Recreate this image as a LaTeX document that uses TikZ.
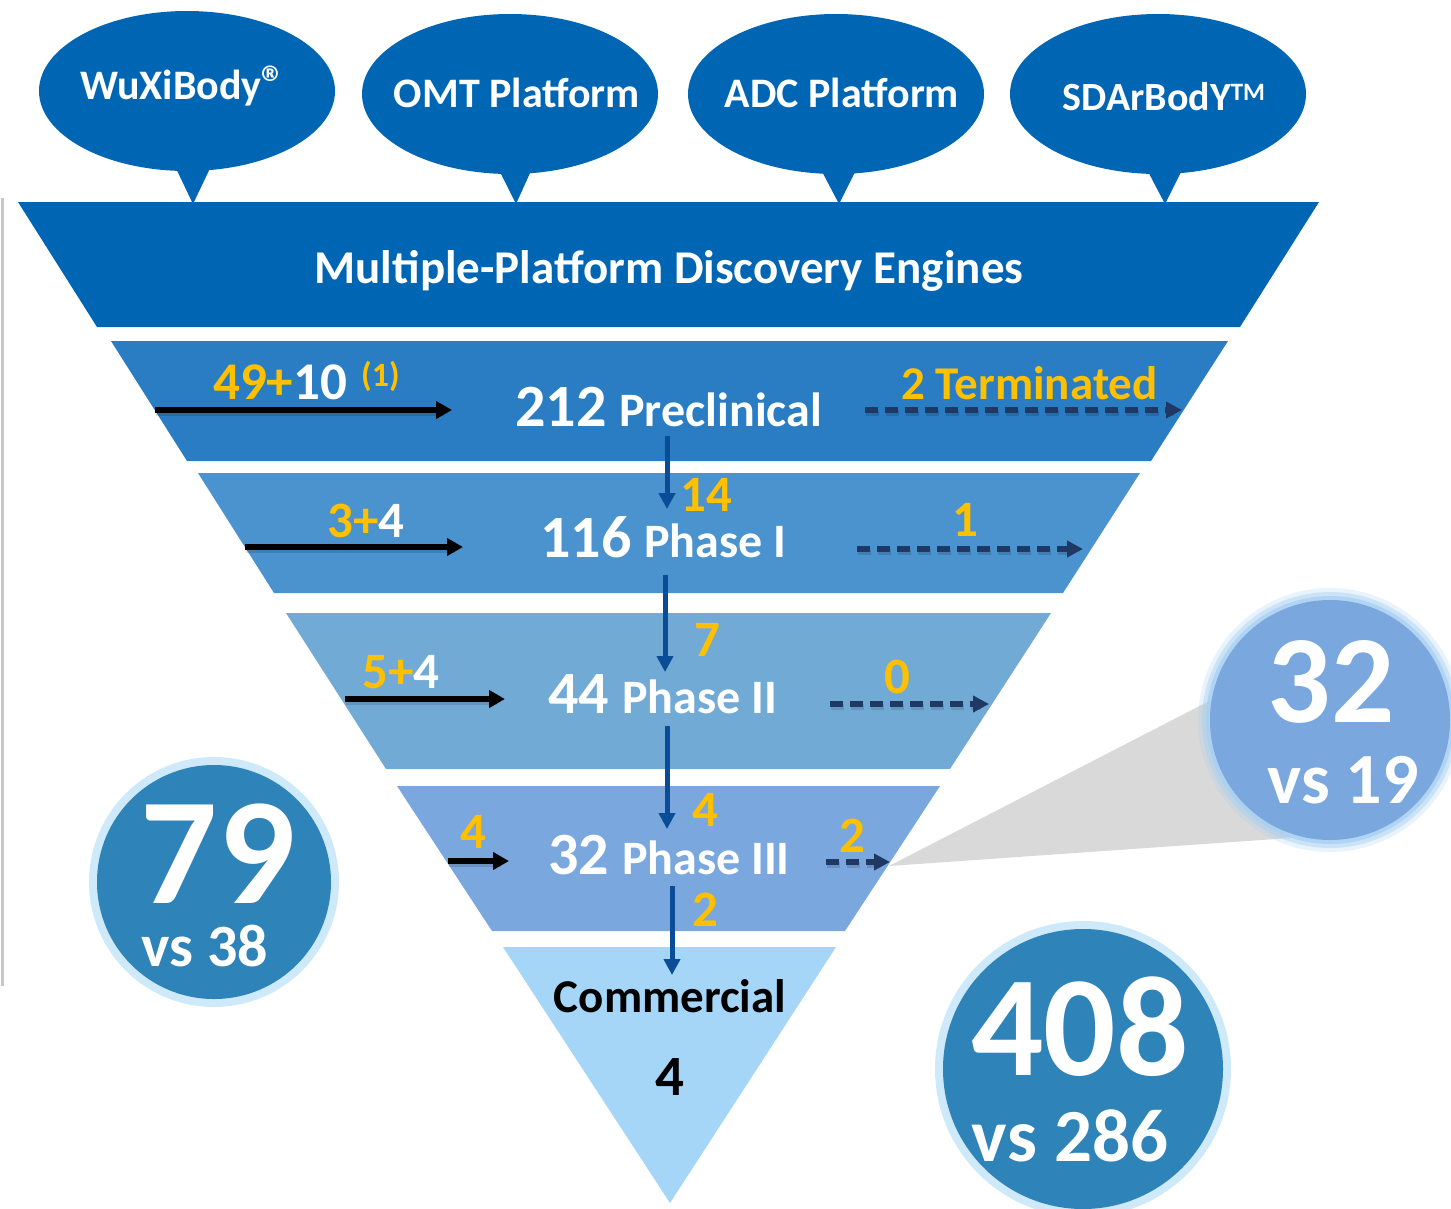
\documentclass[tikz,border=0pt]{standalone}
\usepackage{fontspec}
\setmainfont{Carlito}
\usetikzlibrary{arrows.meta}

\definecolor{engine}{HTML}{0066B3}
\definecolor{rowA}{HTML}{2A7DC3}
\definecolor{rowB}{HTML}{4B93CE}
\definecolor{rowC}{HTML}{72AAD6}
\definecolor{rowD}{HTML}{7AA7DD}
\definecolor{rowE}{HTML}{A5D5F7}
\definecolor{gold}{HTML}{FFC000}
\definecolor{navy}{HTML}{1F3864}
\definecolor{flowblue}{HTML}{0A4C96}
\definecolor{disc}{HTML}{2E83B8}
\definecolor{ring}{HTML}{CDE9FA}
\definecolor{glow}{HTML}{A9D0F2}
\definecolor{callout}{HTML}{D9D9D9}

\newcommand\fsz[1]{\fontsize{#1}{#1}\selectfont\bfseries}

\tikzset{
  bubble/.style={fill=engine},
  bubbletext/.style={inner sep=0pt, anchor=base, text=white, font=\fsz{42}},
  lbl/.style={inner sep=0pt, anchor=base west, font=\fsz{51}},
  stage/.style={inner sep=0pt, anchor=base west, text=white},
  bignum/.style={inner sep=0pt, anchor=base, text=white, font=\fsz{#1}},
  inflow/.style={line width=6.5pt, black,
    -{Triangle[length=16pt,width=17pt]}},
  flowshadow/.style={line width=6pt, black, opacity=0.13},
  outflow/.style={line width=5.5pt, navy, dash pattern=on 13pt off 7pt,
    -{Triangle[length=16pt,width=16pt]}},
  advance/.style={line width=5pt, flowblue,
    -{Triangle[length=16pt,width=16pt]}}
}

\begin{document}
\begin{tikzpicture}[x=1pt,y=-1pt]
\useasboundingbox (0,0) rectangle (1451,1208);

% thin rule along the left edge
\draw[line width=3pt, black!22] (2,198) -- (2,986);

% speech bubbles for the four platforms
\fill[bubble] (172,160) -- (193,204) -- (214,160) -- cycle;
\fill[bubble] (495,162) -- (516,204) -- (535,162) -- cycle;
\fill[bubble] (817,162) -- (839,204) -- (860,162) -- cycle;
\fill[bubble] (1143,162) -- (1165,204) -- (1186,162) -- cycle;
\fill[bubble] (187,91) ellipse[x radius=148pt, y radius=80pt];
\fill[bubble] (510,94) ellipse[x radius=148pt, y radius=80pt];
\fill[bubble] (836,94) ellipse[x radius=148pt, y radius=80pt];
\fill[bubble] (1158,94) ellipse[x radius=148pt, y radius=80pt];
\node[bubbletext] (wuxi) at (183,99) {WuXiBody{\fsz{48}®}};
\node[bubbletext] (omt) at (517,107) {OMT Platform};
\node[bubbletext] (adc) at (842,107) {ADC Platform};
\node[bubbletext, font=\fsz{40}] (sdar) at (1164,110) {SDArBodY\raisebox{10pt}{\fsz{25}TM}};

% discovery engine band
\fill[engine] (18,202) -- (1319,202) -- (1240,327) -- (97,327) -- cycle;
\node[inner sep=0pt, anchor=base, text=white, font=\fsz{47}] (engines) at (669,283)
  {Multiple-Platform Discovery Engines};

% callout wedge towards the Phase III circle
\fill[callout] (889,866) -- (1215,698) -- (1290,838) -- cycle;

% funnel stages
\fill[rowA] (111,341) -- (1228,341) -- (1151,461) -- (187,461) -- cycle;
\fill[rowB] (198,473) -- (1140,473) -- (1063,593) -- (274,593) -- cycle;
\fill[rowC] (286,613) -- (1051,613) -- (950,769) -- (386,769) -- cycle;
\fill[rowD] (397,786) -- (940,786) -- (845,931) -- (492,931) -- cycle;
\fill[rowE] (503,947) -- (836,947) -- (670,1203) -- cycle;

% stage titles
\node[stage] (pre) at (515,426) {\fsz{60}212\hspace{13pt}\fsz{48}Preclinical};
\node[stage] (ph1) at (540,557) {\fsz{60}116\hspace{13pt}\fsz{48}Phase I};
\node[stage] (ph2) at (548,713) {\fsz{60}44\hspace{13pt}\fsz{48}Phase II};
\node[stage] (ph3) at (548,874) {\fsz{60}32\hspace{13pt}\fsz{48}Phase III};
\node[inner sep=0pt, anchor=base, font=\fsz{47}] (com) at (670,1012) {Commercial};
\node[inner sep=0pt, anchor=base, font=\fsz{57}] (comn) at (670,1095) {4};

% inflow labels
\node[lbl, font=\fsz{53}] (in1) at (213,399) {\color{gold}49+\color{white}10};
\node[lbl, font=\fsz{34}, text=gold] (in1note) at (361,386) {(1)};
\node[lbl] (in2) at (327,537) {\color{gold}3+\color{white}4};
\node[lbl] (in3) at (362,688) {\color{gold}5+\color{white}4};
\node[lbl, text=gold] (in4) at (460,848) {4};

% advancement labels
\node[lbl, text=gold] (adv1) at (680,511) {14};
\node[lbl, text=gold] (adv2) at (694,656) {7};
\node[lbl, text=gold] (adv3) at (692,826) {4};
\node[lbl, text=gold] (adv4) at (692,926) {2};

% terminations
\node[lbl, text=gold, font=\fsz{47}] (out1) at (901,399) {2 Terminated};
\node[lbl, text=gold] (out2) at (952,536) {1};
\node[lbl, text=gold] (out3) at (884,693) {0};
\node[lbl, text=gold] (out4) at (839,852) {2};

% arrow end points
\coordinate (a1s) at (155,410); \coordinate (a1e) at (452,410);
\coordinate (a2s) at (245,547); \coordinate (a2e) at (463,547);
\coordinate (a3s) at (345,699); \coordinate (a3e) at (505,699);
\coordinate (a4s) at (448,861); \coordinate (a4e) at (509,861);
\coordinate (t1s) at (865,410); \coordinate (t1e) at (1182,410);
\coordinate (t2s) at (857,549); \coordinate (t2e) at (1083,549);
\coordinate (t3s) at (830,704); \coordinate (t3e) at (989,704);
\coordinate (t4s) at (826,862); \coordinate (t4e) at (890,862);
\coordinate (d1s) at (667,436); \coordinate (d1e) at (667,509);
\coordinate (d2s) at (665,575); \coordinate (d2e) at (665,672);
\coordinate (d3s) at (667,726); \coordinate (d3e) at (667,829);
\coordinate (d4s) at (672,886); \coordinate (d4e) at (672,975);

% new entries flowing in
\foreach \p in {1,2,3,4}{
  \draw[flowshadow] ([shift={(1,3)}]a\p s) -- ([shift={(-8,3)}]a\p e);
  \draw[inflow] (a\p s) -- (a\p e);
}
% terminations flowing out
\foreach \p in {1,2,3,4}{
  \draw[flowshadow, dash pattern=on 13pt off 7pt]
    ([shift={(1,3)}]t\p s) -- ([shift={(-8,3)}]t\p e);
  \draw[outflow] (t\p s) -- (t\p e);
}
% advancement between stages
\foreach \p in {1,2,3,4}{
  \draw[advance] (d\p s) -- (d\p e);
}

% Phase III circle with soft halo
\fill[glow, opacity=0.25] (1330,720) circle[radius=132pt];
\fill[glow, opacity=0.45] (1330,720) circle[radius=128pt];
\fill[glow, opacity=0.8] (1330,720) circle[radius=124pt];
\fill[rowD] (1330,720) circle[radius=120pt];
\node[bignum=125] (n32) at (1331,722) {32};
\node[bignum=72] (vs19) at (1343,803) {vs 19};

% clinical projects circle
\fill[ring] (214,882) circle[radius=125pt];
\fill[disc] (214,882) circle[radius=117pt];
\node[bignum=152] (n79) at (218,903) {79};
\node[bignum=60] (vs38) at (205,966) {vs 38};

% total projects circle
\fill[ring] (1083,1069) circle[radius=148pt];
\fill[disc] (1083,1069) circle[radius=140pt];
\node[bignum=143] (n408) at (1080,1075) {408};
\node[bignum=75] (vs286) at (1070,1161) {vs 286};
\end{tikzpicture}
\end{document}
